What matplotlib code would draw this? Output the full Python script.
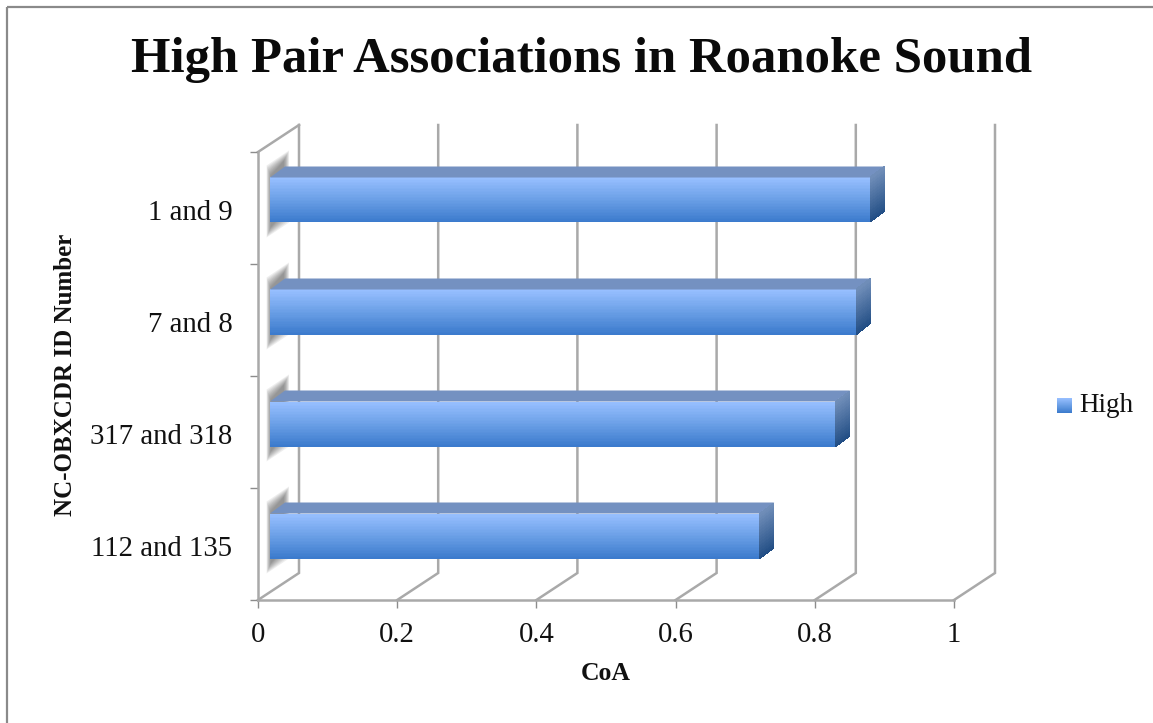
import numpy as np
import matplotlib
matplotlib.use("Agg")
import matplotlib.pyplot as plt
from matplotlib.colors import LinearSegmentedColormap
from matplotlib.lines import Line2D
from matplotlib.patches import Polygon

# Chart content
TITLE = "High Pair Associations in Roanoke Sound"
XLABEL = "CoA"
YLABEL = "NC-OBXCDR ID Number"
LEGEND_LABEL = "High"
pairs = ["112 and 135", "317 and 318", "7 and 8", "1 and 9"]
coa = [0.703, 0.812, 0.842, 0.862]
x_ticks = [0, 0.2, 0.4, 0.6, 0.8, 1]
x_tick_labels = ["0", "0.2", "0.4", "0.6", "0.8", "1"]

W, H = 1153, 723
FONT = "Liberation Serif"
GRID = "#a9a9a9"
AXIS = "#8c8c8c"

fig = plt.figure(figsize=(W / 100, H / 100), dpi=100, facecolor="white")

# Front plane of the pseudo-3D box, in figure pixels
PX_L, PX_R, PX_T, PX_B = 258, 954, 152, 600
ax = fig.add_axes([PX_L / W, 1 - PX_B / H, (PX_R - PX_L) / W, (PX_B - PX_T) / H])
ax.set_xlim(0, 1)
ax.set_ylim(-0.5, len(pairs) - 0.5)
ax.patch.set_visible(False)

PX_PER_X = PX_R - PX_L
PX_PER_CAT = (PX_B - PX_T) / len(pairs)


def ox(px):
    return px / PX_PER_X


def oy(px):
    return px / PX_PER_CAT


# Box depth, and the bar plane / bar depth inside it
BOX_DX, BOX_DY = ox(41), oy(27)
PLANE_DX, PLANE_DY = ox(12), oy(8)
BAR_DX, BAR_DY = ox(15), oy(11)
BAR_HALF = oy(22.5)

front_cmap = LinearSegmentedColormap.from_list("front", ["#3c7bcd", "#6a9fe6", "#97bfff"])
side_cmap = LinearSegmentedColormap.from_list("side", ["#224e85", "#6f8db8"])

y0, y1 = ax.get_ylim()

# Back wall gridlines and floor diagonals
for t in x_ticks:
    ax.plot([t, t + BOX_DX, t + BOX_DX], [y0, y0 + BOX_DY, y1 + BOX_DY],
            color=GRID, lw=1.8, clip_on=False, zorder=1, solid_joinstyle="miter")
# Top edge of the side wall
ax.plot([0, BOX_DX], [y1, y1 + BOX_DY], color=GRID, lw=1.8, clip_on=False, zorder=1)

# Bars, with their soft shadow on the side wall
for i, v in enumerate(coa):
    cy = i + PLANE_DY
    left = PLANE_DX
    right = PLANE_DX + v
    bottom, top = cy - BAR_HALF, cy + BAR_HALF

    # Stacked translucent shapes, widest first, give the shadow a soft edge
    for grow in np.linspace(6, -4, 9):
        sx0 = left - ox(1) - ox(grow * 0.4)
        sx1 = left + ox(16) + ox(grow * 0.5)
        lift = oy(15)
        shadow = Polygon(
            [(sx0, bottom - oy(9) - oy(grow)),
             (sx0, top + oy(6) + oy(grow)),
             (sx1, top + oy(6) + lift + oy(grow)),
             (sx1, bottom - oy(9) + lift - oy(grow))],
            closed=True, facecolor="#5a5a5a", edgecolor="none", alpha=0.1,
            clip_on=False, zorder=2)
        ax.add_patch(shadow)

    # Front face
    gy = np.linspace(bottom, top, 31)
    gx = np.array([left, right])
    X, Y = np.meshgrid(gx, gy)
    C = np.linspace(0, 1, 30).reshape(-1, 1)
    ax.pcolormesh(X, Y, C, cmap=front_cmap, vmin=0, vmax=1, shading="flat",
                  clip_on=False, zorder=4, rasterized=True)

    # Top face
    ax.add_patch(Polygon(
        [(left, top), (right, top), (right + BAR_DX, top + BAR_DY), (left + BAR_DX, top + BAR_DY)],
        closed=True, facecolor="#7491c1", edgecolor="none", clip_on=False, zorder=4))

    # End face, shaded along the bar height
    fr = np.linspace(0, 1, 31)
    sy = bottom + fr * (top - bottom)
    SX = np.column_stack([np.full_like(fr, right), np.full_like(fr, right + BAR_DX)])
    SY = np.column_stack([sy, sy + BAR_DY])
    ax.pcolormesh(SX, SY, C, cmap=side_cmap, vmin=0, vmax=1, shading="flat",
                  clip_on=False, zorder=4, rasterized=True)

# Axes
for name in ("top", "right"):
    ax.spines[name].set_visible(False)
for name in ("left", "bottom"):
    ax.spines[name].set_color(GRID)
    ax.spines[name].set_linewidth(1.8)
    ax.spines[name].set_zorder(3)

ax.set_xticks(x_ticks)
ax.set_xticklabels(x_tick_labels, fontfamily=FONT, fontsize=20.7, color="#111111")
ax.set_yticks(np.arange(-0.5, len(pairs), 1.0))
ax.set_yticklabels([])
ax.set_yticks(np.arange(len(pairs)) - oy(2), labels=pairs, minor=True,
              fontfamily=FONT, fontsize=20.7, color="#111111")
ax.tick_params(axis="x", which="major", length=5.5, width=1, color=AXIS, pad=10)
ax.tick_params(axis="y", which="major", length=5.5, width=1, color=AXIS)
ax.tick_params(axis="y", which="minor", length=0, pad=18.5)

fig.text(606 / W, 1 - 674 / H, XLABEL, fontfamily=FONT, fontweight="bold", fontsize=18.5,
         ha="center", va="center", color="#111111")
fig.text(66 / W, 1 - 375 / H, YLABEL, fontfamily=FONT, fontweight="bold", fontsize=18,
         rotation=90, ha="center", va="center", color="#111111")
fig.text(582 / W, 1 - 72 / H, TITLE, fontfamily=FONT, fontweight="bold", fontsize=36.5,
         ha="center", va="baseline", color="#0a0a0a")

# Legend swatch with the same shading as the bars
swatch = fig.add_axes([1057 / W, 1 - 413 / H, 15 / W, 15 / H])
swatch.imshow(np.linspace(1, 0, 30).reshape(-1, 1), cmap=front_cmap, vmin=0, vmax=1, aspect="auto")
swatch.axis("off")
fig.text(1079 / W, 1 - 405 / H, LEGEND_LABEL, fontfamily=FONT, fontsize=19.5,
         ha="left", va="center", color="#111111")

# Chart-area border: only the top and left edges fall inside the page
fig.add_artist(Line2D([6.5 / W, 6.5 / W], [0, 1 - 6.5 / H], color="#8a8a8a", lw=1.6,
                      solid_capstyle="butt"))
fig.add_artist(Line2D([6.5 / W, 1], [1 - 6.5 / H, 1 - 6.5 / H], color="#8a8a8a", lw=1.6,
                      solid_capstyle="butt"))

fig.savefig("out.png", dpi=100, facecolor="white")
